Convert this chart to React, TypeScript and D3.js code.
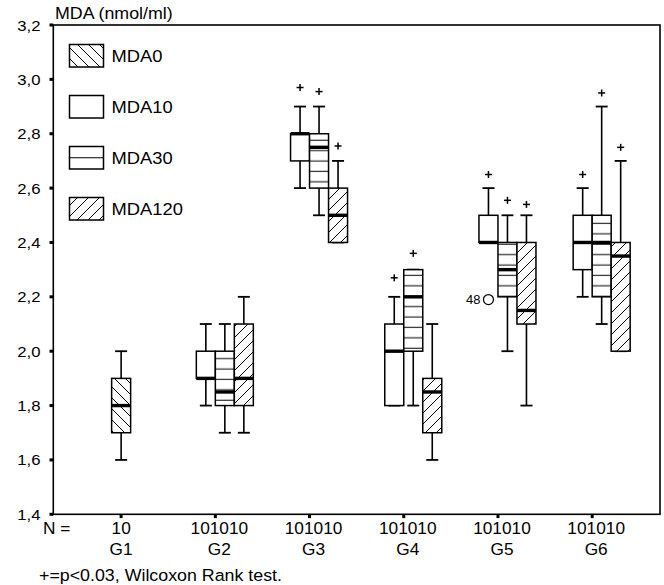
import React from "react";
import * as d3 from "d3";

// Groups along the x axis and the N row beneath them
const groups = ["G1", "G2", "G3", "G4", "G5", "G6"];
const countLabels = ["10", "101010", "101010", "101010", "101010", "101010"];
const seriesNames = ["MDA0", "MDA10", "MDA30", "MDA120"];
const yTicks = [1.4, 1.6, 1.8, 2.0, 2.2, 2.4, 2.6, 2.8, 3.0, 3.2];

// Five-number summaries [min, q1, median, q3, max] per group (null = not measured)
const mda0 = [[1.6, 1.7, 1.8, 1.9, 2.0], null, null, null, null, null];
const mda10 = [
  null,
  [1.8, 1.9, 1.9, 2.0, 2.1],
  [2.6, 2.7, 2.8, 2.8, 2.9],
  [1.8, 1.8, 2.0, 2.1, 2.2],
  [2.4, 2.4, 2.4, 2.5, 2.6],
  [2.2, 2.3, 2.4, 2.5, 2.6],
];
const mda30 = [
  null,
  [1.7, 1.8, 1.85, 2.0, 2.1],
  [2.5, 2.6, 2.75, 2.8, 2.9],
  [1.8, 2.0, 2.2, 2.3, 2.3],
  [2.0, 2.2, 2.3, 2.4, 2.5],
  [2.1, 2.2, 2.4, 2.5, 2.9],
];
const mda120 = [
  null,
  [1.7, 1.8, 1.9, 2.1, 2.2],
  [2.4, 2.4, 2.5, 2.6, 2.7],
  [1.6, 1.7, 1.85, 1.9, 2.1],
  [1.8, 2.1, 2.15, 2.4, 2.5],
  [2.0, 2.0, 2.35, 2.4, 2.7],
];

// Height of the "+" significance marks per group
const sig0 = [null, null, null, null, null, null];
const sig10 = [null, null, 2.97, 2.27, 2.65, 2.65];
const sig30 = [null, null, 2.955, 2.36, 2.555, 2.95];
const sig120 = [null, null, 2.755, null, 2.54, 2.75];

// Outlying cases
const outlierGroups = ["G5"];
const outlierSeries = ["MDA10"];
const outlierValues = [2.19];
const outlierCases = ["48"];

const seriesStats = [mda0, mda10, mda30, mda120];
const seriesSig = [sig0, sig10, sig30, sig120];
const seriesFill = ["url(#hatchBack)", "#fff", "url(#hatchHoriz)", "url(#hatchFwd)"];

const W = 664;
const H = 585;
const plot = { left: 53.3, right: 660, top: 25, bottom: 514.3 };
const FONT = "'Liberation Sans', Arial, Helvetica, sans-serif";
const SX = 1.08;

function Label({ x, y, size, anchor = "start", children }: any) {
  return (
    <text
      transform={`translate(${x},${y}) scale(${SX},1)`}
      fontSize={size}
      fontFamily={FONT}
      textAnchor={anchor}
      fill="#000"
    >
      {children}
    </text>
  );
}

export default function App() {
  const x = d3
    .scalePoint<string>()
    .domain(groups)
    .range([plot.left, plot.right])
    .padding(0.72);
  const y = d3.scaleLinear().domain([1.4, 3.2]).range([plot.bottom, plot.top]);
  const boxW = 19;
  const slot = d3
    .scaleBand<string>()
    .domain(seriesNames)
    .range([-2 * boxW, 2 * boxW]);

  const boxes: any[] = [];
  groups.forEach((g, gi) => {
    const present = seriesNames.filter((_, si) => seriesStats[si][gi] != null);
    seriesNames.forEach((s, si) => {
      const st = seriesStats[si][gi];
      if (!st) return;
      const cx = x(g)!;
      const left = present.length === 1 ? cx - boxW / 2 : cx + slot(s)!;
      boxes.push({ g, gi, s, si, st, left, sig: seriesSig[si][gi] });
    });
  });

  const capW = 12;

  return (
    <svg
      width={W}
      height={H}
      style={{ position: "absolute", left: 0, top: 0, background: "#fff" }}
    >
      <defs>
        <pattern id="hatchBack" patternUnits="userSpaceOnUse" width={11} height={11}>
          <rect width={11} height={11} fill="#fff" />
          <path
            d="M0,0 L11,11 M-2.75,8.25 L2.75,13.75 M8.25,-2.75 L13.75,2.75"
            stroke="#000"
            strokeWidth={1}
          />
        </pattern>
        <pattern id="hatchFwd" patternUnits="userSpaceOnUse" width={11} height={11}>
          <rect width={11} height={11} fill="#fff" />
          <path
            d="M0,11 L11,0 M-2.75,2.75 L2.75,-2.75 M8.25,13.75 L13.75,8.25"
            stroke="#000"
            strokeWidth={1}
          />
        </pattern>
        <pattern id="hatchHoriz" patternUnits="userSpaceOnUse" width={10} height={10.4}>
          <rect width={10} height={10.4} fill="#fff" />
          <path d="M0,5 L10,5" stroke="#000" strokeWidth={1} />
        </pattern>
      </defs>

      {/* y axis title */}
      <Label x={55} y={19} size={16.5}>
        MDA (nmol/ml)
      </Label>

      {/* frame */}
      <rect
        x={plot.left}
        y={plot.top}
        width={plot.right - plot.left}
        height={plot.bottom - plot.top}
        fill="none"
        stroke="#000"
        strokeWidth={1.6}
      />

      {/* y ticks */}
      {yTicks.map((t) => (
        <g key={t}>
          <rect x={plot.left - 3.8} y={y(t) - 1.5} width={3.8} height={3} fill="#000" />
          <Label x={40.5} y={y(t) + 5.5} size={15.5} anchor="end">
            {d3.format(".1f")(t).replace(".", ",")}
          </Label>
        </g>
      ))}

      {/* x ticks and labels */}
      {groups.map((g, gi) => {
        const off = gi === 0 ? 0 : 4;
        return (
          <g key={g}>
            <rect x={x(g)! - 1.5} y={plot.bottom} width={3} height={3.8} fill="#000" />
            <Label x={x(g)! + off} y={533.5} size={16} anchor="middle">
              {countLabels[gi]}
            </Label>
            <Label x={x(g)! + off} y={554.5} size={16} anchor="middle">
              {g}
            </Label>
          </g>
        );
      })}
      <Label x={43} y={533.5} size={16}>
        N =
      </Label>
      <Label x={39} y={581} size={16.5}>
        +=p&lt;0.03, Wilcoxon Rank test.
      </Label>

      {/* boxes */}
      {boxes.map((b) => {
        const [mn, q1, md, q3, mx] = b.st;
        const cx = b.left + boxW / 2;
        return (
          <g key={b.g + b.s}>
            <line x1={cx} x2={cx} y1={y(mx)} y2={y(q3)} stroke="#000" strokeWidth={1.6} />
            <line x1={cx} x2={cx} y1={y(q1)} y2={y(mn)} stroke="#000" strokeWidth={1.6} />
            <line x1={cx - capW / 2} x2={cx + capW / 2} y1={y(mx)} y2={y(mx)} stroke="#000" strokeWidth={1.8} />
            <line x1={cx - capW / 2} x2={cx + capW / 2} y1={y(mn)} y2={y(mn)} stroke="#000" strokeWidth={1.8} />
            <rect
              x={b.left}
              y={y(q3)}
              width={boxW}
              height={Math.max(0, y(q1) - y(q3))}
              fill={seriesFill[b.si]}
              stroke="#000"
              strokeWidth={1.5}
            />
            <line
              x1={b.left}
              x2={b.left + boxW}
              y1={y(md)}
              y2={y(md)}
              stroke="#000"
              strokeWidth={3.4}
            />
            {b.sig != null && (
              <g stroke="#000" strokeWidth={1.5}>
                <line x1={cx - 3.5} x2={cx + 3.5} y1={y(b.sig)} y2={y(b.sig)} />
                <line x1={cx} x2={cx} y1={y(b.sig) - 3.5} y2={y(b.sig) + 3.5} />
              </g>
            )}
          </g>
        );
      })}

      {/* outliers */}
      {outlierValues.map((v, i) => {
        const b = boxes.find((bb) => bb.g === outlierGroups[i] && bb.s === outlierSeries[i]);
        const cx = b.left + boxW / 2;
        return (
          <g key={i}>
            <circle cx={cx} cy={y(v)} r={5} fill="#fff" stroke="#000" strokeWidth={1.2} />
            <Label x={cx - 8} y={y(v) + 4.5} size={12} anchor="end">
              {outlierCases[i]}
            </Label>
          </g>
        );
      })}

      {/* legend */}
      {seriesNames.map((s, si) => {
        const top = 44.5 + si * 51;
        return (
          <g key={s}>
            <rect
              x={69.5}
              y={top}
              width={34}
              height={22.5}
              fill={si === 2 ? "#fff" : seriesFill[si]}
              stroke="#000"
              strokeWidth={1.5}
            />
            {si === 2 && (
              <line x1={69.5} x2={103.5} y1={top + 11.25} y2={top + 11.25} stroke="#000" strokeWidth={1.2} />
            )}
            <Label x={111.5} y={top + 17.5} size={17}>
              {s}
            </Label>
          </g>
        );
      })}
    </svg>
  );
}
